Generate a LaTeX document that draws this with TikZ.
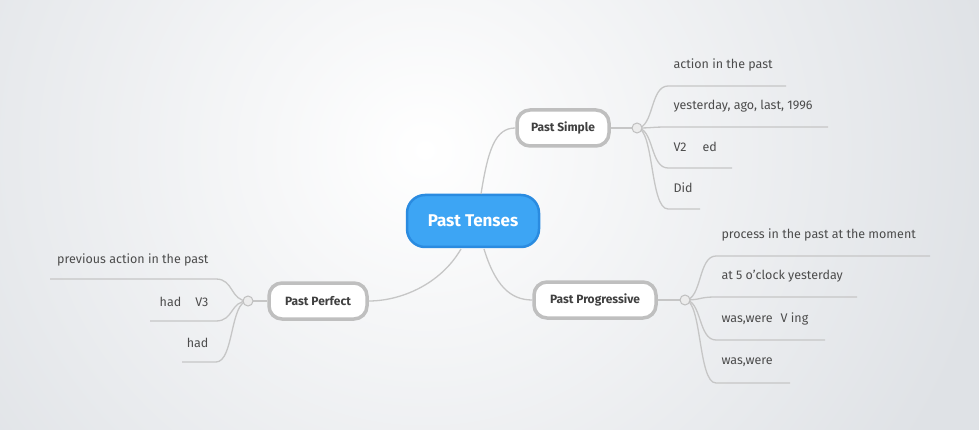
\documentclass[tikz,border=0pt]{standalone}
\usepackage{fontspec}
\setmainfont{Fira Sans}
\begin{document}
\begin{tikzpicture}[x=1pt,y=-1pt,
  topic/.style={rounded corners=13pt,draw=gray!50,line width=3.5pt,fill=white,font=\fontsize{12}{14}\selectfont\bfseries,text=black!75,minimum height=36pt,inner xsep=10pt},
  leaf/.style={font=\fontsize{12.5}{14}\selectfont,text=black!70,anchor=west},
  con/.style={draw=gray!45,line width=1.3pt},
  knob/.style={circle,draw=gray!50,fill=gray!15,line width=1pt,minimum size=10pt,inner sep=0pt}]
\definecolor{bl}{HTML}{3DA5F4}\definecolor{bld}{HTML}{2A8BE0}\definecolor{bgo}{HTML}{DFE2E6}
\useasboundingbox (0,0) rectangle (979,430);
\begin{scope}
\clip (0,0) rectangle (979,430);
\shade[inner color=white,outer color=bgo] (-150,-400) rectangle (1000,700);
\end{scope}
\node[rounded corners=18pt,fill=bl,draw=bld,line width=2.5pt,minimum width=132pt,minimum height=52pt,text=white,font=\fontsize{17}{20}\selectfont\bfseries] (c) at (473,221) {Past Tenses};
\node[topic,minimum width=92pt] (ps) at (563,128) {Past Simple};
\node[topic,minimum width=122pt] (pp) at (595,300) {Past Progressive};
\node[topic,minimum width=98pt] (pf) at (318,301) {Past Perfect};
\draw[con] (481,194) .. controls (488,150) and (495,128) .. (ps.west);
\draw[con] (484,249) .. controls (495,285) and (510,300) .. (pp.west);
\draw[con] (461,249) .. controls (440,285) and (400,301) .. (pf.east);
\coordinate (k1) at (637,128);
\coordinate (k2) at (685,300);
\coordinate (k3) at (248,301);
\draw[con] (ps.east) -- (k1); \draw[con] (pp.east) -- (k2); \draw[con] (pf.west) -- (k3);
\foreach \y/\e/\t in {86/786/action in the past,127/828/{yesterday, ago, last, 1996},168/732/{V2\hspace{16pt}ed},209/700/Did}{
  \draw[con] (k1) .. controls (654,128) and (650,\y) .. (668,\y) -- (\e,\y);
  \node[leaf] at (670,\y-21) {\t};}
\foreach \y/\e/\t in {256/930/process in the past at the moment,297/857/at 5 o'clock yesterday,340/825/{was,were\hspace{8pt}V ing},383/790/{was,were}}{
  \draw[con] (k2) .. controls (702,300) and (698,\y) .. (716,\y) -- (\e,\y);
  \node[leaf] at (718,\y-21) {\t};}
\foreach \y/\e/\t in {279/50/previous action in the past,321/150/{had\hspace{14pt}V3},362/182/had}{
  \draw[con] (k3) .. controls (230,301) and (234,\y) .. (216,\y) -- (\e,\y);
  \node[leaf,anchor=east] at (212,\y-19) {\t};}
\node[knob] (n1) at (k1) {};
\node[knob] (n2) at (k2) {};
\node[knob] (n3) at (k3) {};
\end{tikzpicture}
\end{document}
